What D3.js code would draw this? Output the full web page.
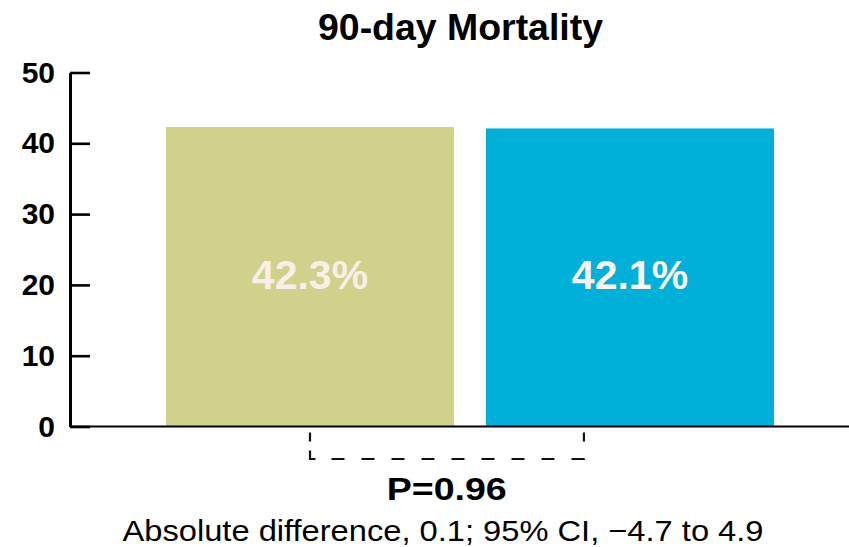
<!DOCTYPE html>
<html>
<head>
<meta charset="utf-8">
<script src="https://cdn.jsdelivr.net/npm/d3@7"></script>
<style>
  html, body { margin: 0; padding: 0; background: #fff; }
  svg { display: block; }
  text { font-family: "Liberation Sans", Arial, Helvetica, sans-serif; }
</style>
</head>
<body>
<svg id="chart" width="849" height="547"></svg>
<script>
const categories = ["Group A", "Group B"];
const values = [42.3, 42.1];
const valueLabels = ["42.3%", "42.1%"];
const barColors = ["#d0d28b", "#00b0d8"];
const labelColors = ["#f8efe8", "#fbf3ef"];
const yTicks = [0, 10, 20, 30, 40, 50];
const titleText = "90-day Mortality";
const pText = "P=0.96";
const noteText = "Absolute difference, 0.1; 95% CI, \u22124.7 to 4.9";

const W = 849, H = 547;
const svg = d3.select("#chart");

const x = d3.scaleBand().domain(categories).range([150, 790]).paddingInner(0.1).paddingOuter(0.05);
const y = d3.scaleLinear().domain([0, 50]).range([426.5, 72.5]);
const axisX = 70;

// bars
svg.selectAll("rect.bar").data(values).enter().append("rect")
  .attr("class", "bar")
  .attr("x", (d, i) => x(categories[i]))
  .attr("width", x.bandwidth())
  .attr("y", d => y(d))
  .attr("height", d => y(0) - y(d))
  .attr("fill", (d, i) => barColors[i]);

// bar labels
svg.selectAll("text.val").data(values).enter().append("text")
  .attr("class", "val")
  .attr("x", (d, i) => x(categories[i]) + x.bandwidth() / 2)
  .attr("y", d => y(d / 2) + 12)
  .attr("text-anchor", "middle")
  .attr("font-size", 41)
  .attr("font-weight", "bold")
  .attr("fill", (d, i) => labelColors[i])
  .text((d, i) => valueLabels[i]);

// baseline
svg.append("line")
  .attr("x1", axisX).attr("x2", W)
  .attr("y1", y(0)).attr("y2", y(0))
  .attr("stroke", "#000").attr("stroke-width", 2.2);

// y axis
const yAxis = d3.axisLeft(y).tickValues(yTicks).tickSizeInner(-20).tickSizeOuter(0).tickPadding(15);
const gy = svg.append("g").attr("transform", `translate(${axisX},0)`).call(yAxis);
gy.select(".domain").attr("stroke", "#000").attr("stroke-width", 3);
gy.selectAll(".tick line").attr("stroke", "#000").attr("stroke-width", 2.6);
gy.selectAll(".tick text")
  .attr("font-size", 30).attr("font-weight", "bold").attr("fill", "#000")
  .attr("font-family", "Liberation Sans, Arial, sans-serif");

// title
svg.append("text")
  .attr("x", 460.5).attr("y", 40)
  .attr("text-anchor", "middle")
  .attr("font-size", 36).attr("font-weight", "bold")
  .attr("textLength", 285).attr("lengthAdjust", "spacingAndGlyphs")
  .text(titleText);

// bracket
const bx1 = x(categories[0]) + x.bandwidth() / 2;
const bx2 = x(categories[1]) + x.bandwidth() * 0.34;
const byTop = y(0) + 6, byBot = y(0) + 32.5;
svg.append("path")
  .attr("d", `M${bx1},${byTop}V${byBot}H${bx2}V${byTop}`)
  .attr("fill", "none").attr("stroke", "#111").attr("stroke-width", 2.2)
  .attr("stroke-dasharray", "9,9,14,16,13,17,13,17,13,17,13,17,13,17,13,17,13,17,13,17,13,17");

// P value
svg.append("text")
  .attr("x", 446.7).attr("y", 500)
  .attr("text-anchor", "middle")
  .attr("font-size", 31).attr("font-weight", "bold")
  .attr("textLength", 120).attr("lengthAdjust", "spacingAndGlyphs")
  .text(pText);

// footnote
svg.append("text")
  .attr("x", 443).attr("y", 541)
  .attr("text-anchor", "middle")
  .attr("font-size", 30)
  .attr("textLength", 641).attr("lengthAdjust", "spacingAndGlyphs")
  .text(noteText);
</script>
</body>
</html>
